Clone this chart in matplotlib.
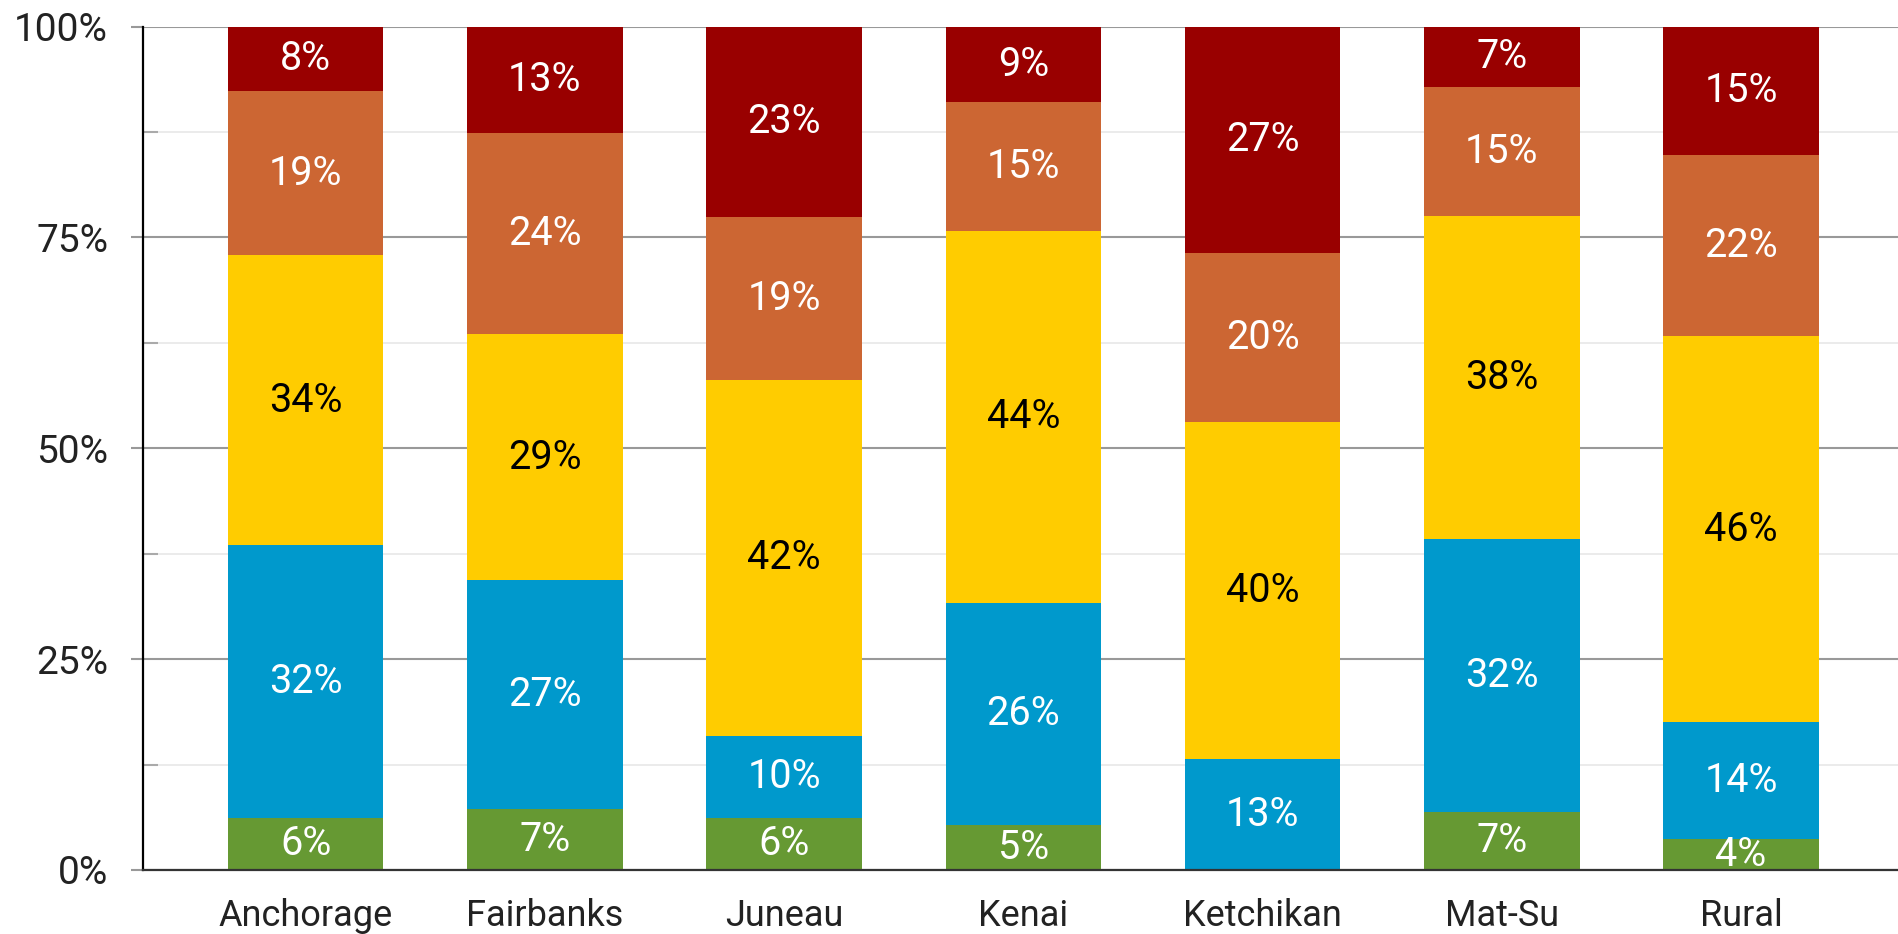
import numpy as np
import matplotlib
matplotlib.use("Agg")
from matplotlib import pyplot as plt
from matplotlib.ticker import MultipleLocator, FuncFormatter

plt.rcParams['font.family'] = ['Roboto', 'DejaVu Sans']

regions = ['Anchorage', 'Fairbanks', 'Juneau', 'Kenai', 'Ketchikan', 'Mat-Su', 'Rural']

# share of each group, percent (bottom to top)
green  = [6.2, 7.2, 6.2, 5.3, 0.0, 6.9, 3.7]
blue   = [32.3, 27.2, 9.7, 26.4, 13.2, 32.4, 13.8]
yellow = [34.4, 29.1, 42.2, 44.1, 39.9, 38.2, 45.8]
orange = [19.4, 23.9, 19.3, 15.3, 20.1, 15.3, 21.5]
red    = [7.7, 12.6, 22.6, 8.9, 26.8, 7.2, 15.2]

series = [green, blue, yellow, orange, red]
colors = ['#669933', '#0099cc', '#ffcc00', '#cc6633', '#990000']
text_colors = ['white', 'white', 'black', 'white', 'white']

fig = plt.figure(figsize=(18.99, 9.34), dpi=100)
ax = fig.add_axes([143 / 1899, 1 - 870 / 934, 1 - 143 / 1899, (870 - 26.5) / 934])

x = np.arange(len(regions))
bottom = np.zeros(len(regions))
for vals, col, tcol in zip(series, colors, text_colors):
    vals = np.array(vals)
    ax.bar(x, vals, 0.65, bottom=bottom, color=col, zorder=3)
    for xi, b, v in zip(x, bottom, vals):
        if v > 0:
            ax.text(xi, b + v / 2, '%d%%' % round(v), ha='center', va='center',
                    color=tcol, fontsize=28.5, zorder=4)
    bottom += vals

ax.set_xlim(-0.68, 6.66)
ax.set_ylim(0, 100)
ax.yaxis.set_major_locator(MultipleLocator(25))
ax.yaxis.set_minor_locator(MultipleLocator(12.5))
ax.yaxis.set_major_formatter(FuncFormatter(lambda v, p: '%d%%' % v))
ax.grid(axis='y', which='major', color='#999999', linewidth=1.5, zorder=0)
ax.grid(axis='y', which='minor', color='#e8e8e8', linewidth=1.2, zorder=0)
ax.tick_params(axis='y', which='major', length=9, width=1.5, color='#999999',
               pad=16, labelsize=28, labelcolor='#222222')
ax.tick_params(axis='y', which='minor', direction='in', length=11, width=1.5, color='#aaaaaa')

ax.set_xticks(x)
ax.set_xticklabels(regions)
ax.tick_params(axis='x', length=0, pad=20, labelsize=26, labelcolor='#222222')

for s in ['top', 'right']:
    ax.spines[s].set_visible(False)
ax.spines['left'].set_color('black')
ax.spines['left'].set_linewidth(1.6)
ax.spines['left'].set_zorder(5)
ax.spines['bottom'].set_color('#333333')
ax.spines['bottom'].set_linewidth(1.6)
ax.spines['bottom'].set_zorder(5)

fig.savefig('out.png', dpi=100)
